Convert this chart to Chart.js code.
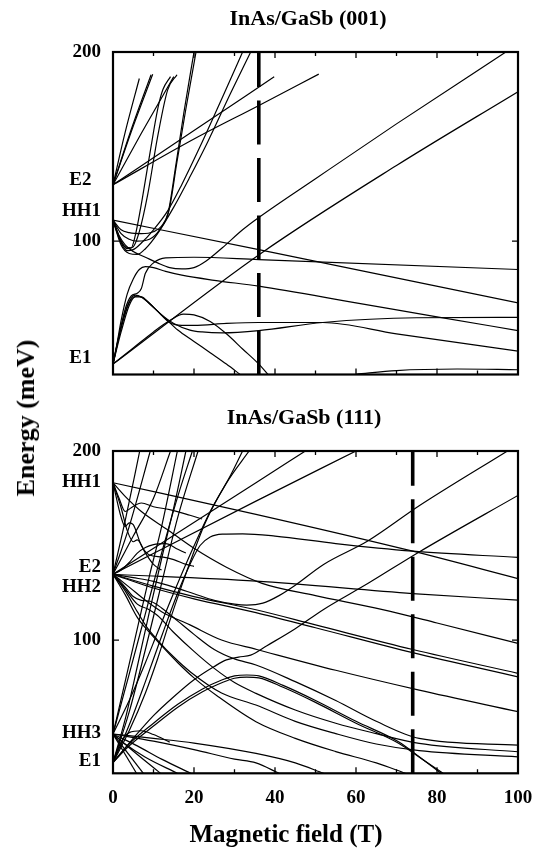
<!DOCTYPE html>
<html><head><meta charset="utf-8">
<script src="https://cdn.jsdelivr.net/npm/chart.js@4.4.1/dist/chart.umd.min.js"></script>
<style>
body{margin:0;background:#fff;}
#wrap{position:relative;width:533px;height:850px;overflow:hidden;font-family:'Liberation Serif','Times New Roman',serif;font-weight:bold;color:#000;background:#fff}
canvas{position:absolute;left:0}
.t{position:absolute;white-space:nowrap;transform:translate(-50%,-50%);line-height:1}
</style></head><body>
<div id="wrap">
<canvas id="c1" width="533" height="400" style="top:0;width:533px;height:400px"></canvas>
<canvas id="c2" width="533" height="450" style="top:400px;width:533px;height:450px"></canvas>
<div class="t" style="left:308px;top:18px;font-size:22px">InAs/GaSb (001)</div>
<div class="t" style="left:304px;top:417px;font-size:22px">InAs/GaSb (111)</div>
<div class="t" style="left:286px;top:833px;font-size:25px">Magnetic field (T)</div>
<div class="t" style="left:26px;top:418px;font-size:26px;transform:translate(-50%,-50%) rotate(-90deg)">Energy (meV)</div>
</div>
<script>
// ---------- axis / tick data ----------
const xTickLabels = [0, 20, 40, 60, 80, 100];
const xTickMarks = [10, 20, 30, 40, 50, 60, 70, 80, 90];
const yMinE = 29.5, yMaxE = 200;
const topTickValues = [38.2, 100, 116.1, 132.3, 200];
const topTickLabels = ['E1  ', '100', 'HH1', 'E2  ', '200'];
const botTickValues = [35.7, 50.7, 100, 128.2, 138.7, 183.6, 200];
const botTickLabels = ['E1', 'HH3', '100', 'HH2', 'E2', 'HH1', '200'];
const topDashField = 36;   // T
const botDashField = 74;   // T

// ---------- InAs/GaSb (001) : levels [B (T), E (meV)] ----------
const top001_fromE2 = [
  [[0,129.8],[20,158.5],[39.8,186.9]],
  [[0,129.8],[20,154],[35.8,171.5],[50.8,188.3]],
  [[0,129.8],[3,157.5],[6.5,186]],
  [[0,129.8],[4.5,159],[9.4,188]],
  [[0,129.8],[4.7,159],[9.8,188.2]],
  [[0,129.8],[7,157],[15,187]]
];
const top001_fromHH1 = [
  [[0,111.1],[36,95.5],[100,67.4]],
  [[0,111.1],[1.5,103],[3,98],[5,94.5],[8,91.5],[11,88.5],[14,86],[17,85.3],[20,86],[23,89.5],[27,96.5],[32,106],[36,112.5],[50,133],[70,162],[97,200]],
  [[0,111.1],[2,106],[4,104.5],[7,104],[10,105],[12,108],[13.6,115],[15.5,140],[17.5,168],[20,200]],
  [[0,111.1],[2,104],[4,101],[6,100],[9,101],[11.5,106],[13.8,116],[15.8,142],[18,170],[20.5,200]],
  [[0,111.1],[2,99],[3.5,95],[5,95.5],[7,99],[10,106],[13.5,116],[17,130],[21.5,150],[27,176],[32,200]],
  [[0,111.1],[2,98],[4,93.5],[6,93],[8,96],[11,104],[15,118],[19,134],[23.5,153],[29,178],[34,200]],
  [[0,111.1],[1.5,102],[3,97],[4.5,96.5],[5.5,103],[6.6,114.8],[9,145],[11.1,170.4],[12.3,180],[14.2,187]],
  [[0,111.1],[2,100],[3.5,96],[5,97],[6.5,105],[8.6,125],[11,155],[13.5,180],[15.8,188]]
];
const top001_fromE1 = [
  [[0,35],[36.5,93.5],[70,140],[100,179]],
  [[0,35],[1.5,50],[3,64],[4.5,71],[6,72.5],[7,75],[8,83],[10,88.5],[13,91.2],[20,91.5],[36,90.2],[100,85]],
  [[0,35],[1,46],[2,58],[3.5,72],[5,80],[6.5,85],[8,86.5],[10,86],[13,84],[17,82],[25,79.3],[36,76.2],[60,67.4],[80,60],[100,52.7]],
  [[0,35],[2,52],[4,66],[5.5,70.5],[7,70.5],[9,67],[12,61],[15,56.5],[19,53],[22,52],[27,51.5],[36,52.7],[51.8,57],[75,59.5],[100,59.7]],
  [[0,35],[2,54],[4,67.5],[6,71],[8,69],[11,63],[14,57],[17,55.5],[20,55.5],[28,56.5],[36,57],[51.8,57],[70,51],[100,41.9]],
  [[0,35],[2,55],[4,68],[5.5,71.5],[7,70.5],[10,65],[13,59],[16,53],[20,47],[24,41],[28,35],[31.7,29]],
  [[0,35],[5,43.5],[10,52],[14,58],[17.4,61.4],[20,61],[24,57.5],[28,51],[32,43],[36,35],[38.5,29]],
  [[60,29.6],[70,31.6],[85,32.4],[100,32]]
];

// ---------- InAs/GaSb (111) : levels [B (T), E (meV)] ----------
const bot111_fromE2 = [
  [[0,134.8],[35.3,183.2],[47.5,200]],
  [[0,134.8],[35.3,173.5],[60,200]],
  [[0,134.8],[5,133],[10,131],[15,128],[20,124.5],[25,121],[30,119],[33,118.5],[37,119.5],[41,123.5],[45,129],[52,140],[63,152.5],[75.6,171],[97.4,200]],
  [[0,134.8],[35.3,131.2],[74,124.6],[100,121.1]],
  [[0,134.8],[10,128.5],[20,123],[35.3,116],[50,108],[74,95],[100,82.4]],
  [[0,134.8],[10,127.5],[20,121.8],[35.3,114.5],[50,106.5],[74,93.3],[100,80.5]],
  [[0,134.8],[4,128],[8,121],[12,115],[19,108],[26.8,100],[35.5,95],[55,84],[75.6,73.5],[100,62.1]],
  [[0,134.8],[3,128],[5,123],[7,121],[9.2,120.5],[12,117],[16,110],[20,103],[25,95],[30,90],[35.3,86.8],[45,78],[55,68],[65,57],[75.6,48],[100,44.4]],
  [[0,134.8],[3,127],[6,119],[8.5,116.5],[11,113],[15,104],[20,94],[25,85],[30,77.5],[35.3,71.8],[45,63],[55,56],[65,50.5],[75.6,45.3],[100,40.9]],
  [[0,134.8],[3,126],[6,115],[8.3,107],[11,100],[15,91],[19.2,83],[26.8,72],[35.3,65.6],[45,57],[55,50.5],[65,45],[75.6,41.5],[100,38.2]],
  [[0,134.8],[3,124],[6,112],[9,104],[12,97],[16,88],[20,80],[26,70],[35.3,56.8],[45,48],[55,41],[65,35],[72.2,29.5]],
  [[0,134.8],[3,163],[6.6,200]],
  [[0,134.8],[4,160],[9.2,200]],
  [[0,134.8],[5,155],[10,175],[14.2,200]],
  [[0,134.8],[2,137],[4,141],[6,146],[8,149],[10,150.5],[13,151],[16,148],[18,146]]
];
const bot111_fromHH1 = [
  [[0,183.2],[35.3,166.5],[74,147],[100,132.5]],
  [[0,183.2],[3,176],[7,168],[13.3,158.6],[20,148.5],[28,138.5],[36.8,130],[50,123.5],[66.3,116.2],[80,109],[100,98.2]],
  [[0,183.2],[1.5,175],[3,168],[4.5,170],[7,172.5],[10,170.5],[14,169],[19,166],[22,164]],
  [[0,183.2],[2,165],[3,160],[4,162],[5,161],[7,150],[9,145],[12,144],[15,142.5],[18,140],[20,139]],
  [[0,183.2],[2,170],[3.5,158],[5,152],[6,153],[8,146],[10,140],[12,137]]
];
const bot111_fromE1HH3 = [
  [[0,35.2],[5,48],[10,60],[15,70],[20,79],[25,86],[28,89.5],[31,91],[34,92],[38,97],[45,106],[52,116.2],[63,130],[75.6,146.6],[100,176.5]],
  [[0,35.2],[4,55],[8,78],[12,102],[16,125],[19,140],[21.5,150],[24,154.5],[27,156],[32,156.2],[40,155],[55,151],[74,147],[100,143.7]],
  [[0,35.2],[4,52],[8,72],[11,90],[14.3,112],[18,135],[22.7,161.7],[28,183],[33.6,200]],
  [[0,50.3],[4,68],[8,88],[11,104],[15,125],[19,145],[24,168],[29,187],[32,200]],
  [[0,35.2],[4,45],[10,56],[16,66],[22,74],[27,79],[30,81],[33,81.5],[36,81],[42,76],[50,68],[60,57],[70.5,46.2],[75.6,38.3],[81,29.5]],
  [[0,35.2],[4,44],[10,54.5],[16,64.5],[22,72.5],[27,77.5],[30,79.8],[33,80.4],[36,80],[42,75],[50,67],[60,56],[70.5,45.4],[76,37.5],[81.5,29.5]],
  [[0,50.3],[10,48],[20,45.5],[35.3,40],[45,35],[52,29.5]],
  [[0,50.3],[10,46.5],[20,42],[30,37],[35.3,35],[41,29.5]],
  [[0,50.3],[5.8,29.5]],
  [[0,50.3],[7.5,29.5]],
  [[0,50.3],[4,43],[11.7,29.5]],
  [[0,50.3],[3,45],[8,38],[15.9,29.5]],
  [[0,50.3],[6,44],[12,37],[19.2,29.5]],
  [[0,50.3],[3,78],[6,106],[9,134],[12,160],[15.9,200]],
  [[0,35.2],[3,58],[6,86],[9,115],[12,143],[15,170],[18,200]],
  [[0,50.3],[4,82],[8,114],[12,146],[16,176],[19.6,200]],
  [[0,35.2],[4,62],[8,95],[12,130],[16,165],[21,200]],
  [[0,35.2],[2,46],[4,51],[7,52],[10,50],[14,46]]
];

// ---------- chart building ----------
const FONT = {family: "'Liberation Serif','Times New Roman',serif", size: 19, weight: 'bold'};

function curveSets(groups) {
  const out = [];
  groups.forEach(g => g.forEach(c => out.push({
    data: c.map(p => ({x: p[0], y: p[1]})),
    borderColor: '#000', borderWidth: 1.2, pointRadius: 0,
    cubicInterpolationMode: 'monotone', fill: false
  })));
  return out;
}

const framePlugin = {
  id: 'frame',
  afterDatasetsDraw(chart) {
    const {ctx, chartArea: a, scales: {x, y}} = chart;
    ctx.save();
    ctx.strokeStyle = '#000';
    ctx.lineWidth = 1.3;
    ctx.beginPath();
    xTickMarks.forEach(v => {
      const px = x.getPixelForValue(v);
      const L = v % 20 === 0 ? 6 : 4;
      ctx.moveTo(px, a.bottom); ctx.lineTo(px, a.bottom - L);
      ctx.moveTo(px, a.top); ctx.lineTo(px, a.top + L);
    });
    const py = y.getPixelForValue(100);
    ctx.moveTo(a.left, py); ctx.lineTo(a.left + 6, py);
    ctx.moveTo(a.right, py); ctx.lineTo(a.right - 6, py);
    ctx.stroke();
    ctx.lineWidth = 2.2;
    ctx.strokeRect(a.left, a.top, a.right - a.left, a.bottom - a.top);
    ctx.restore();
  }
};

function makeChart(id, groups, dashB, tickVals, tickLabels, showX, padTop, xAxisH) {
  const datasets = [{
    data: [{x: dashB, y: yMinE}, {x: dashB, y: yMaxE}],
    borderColor: '#000', borderWidth: 3.6, borderDash: [44, 13.5],
    borderCapStyle: 'butt', pointRadius: 0, tension: 0, fill: false
  }].concat(curveSets(groups));
  return new Chart(document.getElementById(id), {
    type: 'line',
    data: {datasets},
    plugins: [framePlugin],
    options: {
      responsive: false, animation: false, devicePixelRatio: 1,
      layout: {padding: {top: padTop, right: 15, left: 0, bottom: 0}},
      plugins: {legend: {display: false}, tooltip: {enabled: false}, title: {display: false}},
      scales: {
        x: {
          type: 'linear', min: 0, max: 100,
          grid: {display: false, drawTicks: false}, border: {display: false},
          afterBuildTicks: s => { s.ticks = xTickLabels.map(v => ({value: v})); },
          ticks: {display: showX, font: FONT, color: '#000', padding: 13, maxRotation: 0, autoSkip: false},
          afterFit: s => { s.height = xAxisH; s.paddingLeft = 0; s.paddingRight = 0; }
        },
        y: {
          type: 'linear', min: yMinE, max: yMaxE,
          grid: {display: false, drawTicks: false}, border: {display: false},
          afterBuildTicks: s => { s.ticks = tickVals.map(v => ({value: v})); },
          ticks: {font: FONT, color: '#000', padding: 12, autoSkip: false,
                  callback: (v, i) => tickLabels[i]},
          afterFit: s => { s.width = 113; s.paddingTop = 0; s.paddingBottom = 0; }
        }
      }
    }
  });
}

makeChart('c1', [top001_fromE2, top001_fromHH1, top001_fromE1], topDashField,
          topTickValues, topTickLabels, false, 52, 25.5);
makeChart('c2', [bot111_fromE2, bot111_fromHH1, bot111_fromE1HH3], botDashField,
          botTickValues, botTickLabels, true, 51, 76.7);
</script>
</body></html>
